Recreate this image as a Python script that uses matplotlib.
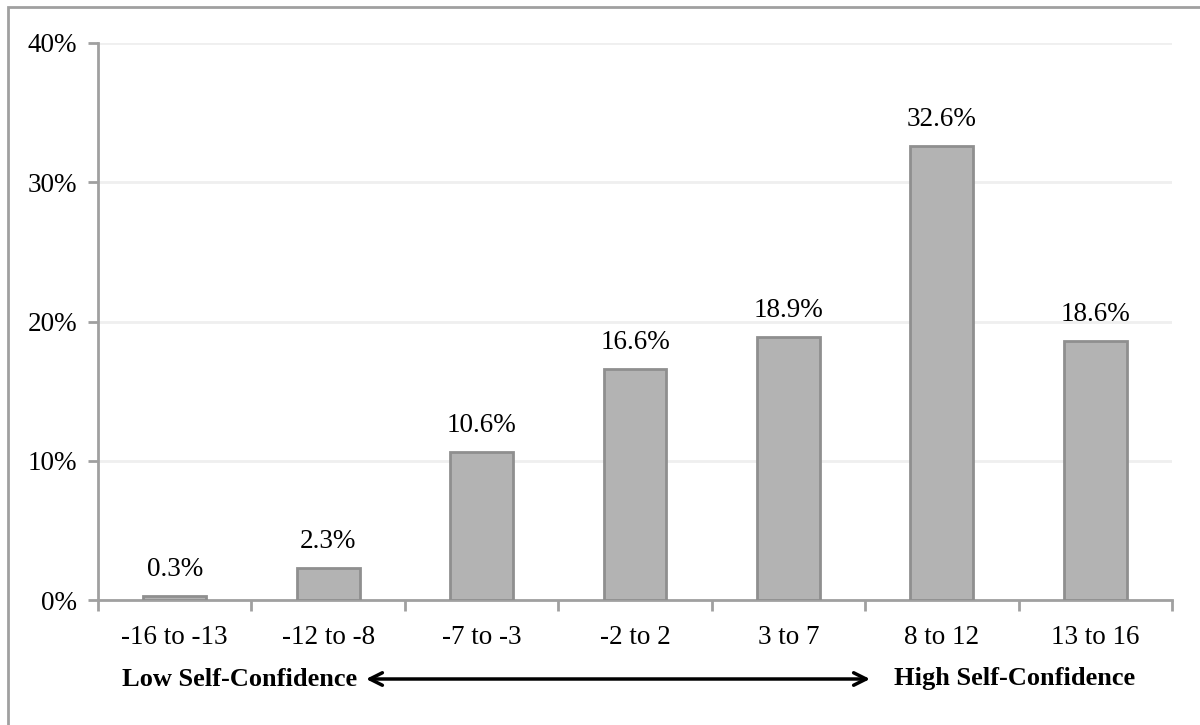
import numpy as np
import matplotlib.pyplot as plt
from matplotlib.patches import Rectangle
from matplotlib.ticker import FixedLocator, FuncFormatter

categories = ['-16 to -13', '-12 to -8', '-7 to -3', '-2 to 2', '3 to 7', '8 to 12', '13 to 16']
shares = [0.3, 2.3, 10.6, 16.6, 18.9, 32.6, 18.6]
y_ticks = [0, 10, 20, 30, 40]

plt.rcParams['font.family'] = ['Liberation Serif', 'DejaVu Serif']

fig = plt.figure(figsize=(12, 7.25), dpi=100)
ax = fig.add_axes([98 / 1200, 1 - 600 / 725, (1172 - 98) / 1200, (600 - 43) / 725])

# outer frame around the chart area
fig.patches.append(Rectangle((8 / 1200, -0.05), 1.1, 1 - 7 / 725 + 0.05,
                             transform=fig.transFigure, fill=False,
                             edgecolor='#a0a0a0', linewidth=2, zorder=0))

x = np.arange(len(categories))
bars = ax.bar(x, shares, width=0.41, color='#b3b3b3', edgecolor='#8f8f8f',
              linewidth=2, zorder=3)

for xi, v in zip(x, shares):
    ax.text(xi, v + 1.0, f'{v:.1f}%', ha='center', va='bottom', fontsize=19.5)

ax.set_xlim(-0.5, len(categories) - 0.5)
ax.set_ylim(0, 40)
ax.set_yticks(y_ticks)
ax.yaxis.set_major_formatter(FuncFormatter(lambda v, _: f'{v:.0f}%'))
ax.yaxis.grid(True, color='#efefef', linewidth=2, zorder=0)
ax.set_axisbelow(True)

# category labels sit between boundary tick marks
ax.set_xticks(x)
ax.set_xticklabels(categories, fontsize=19.5)
ax.tick_params(axis='x', which='major', length=0, pad=18)
ax.xaxis.set_minor_locator(FixedLocator(np.arange(-0.5, len(categories), 1.0)))
ax.tick_params(axis='x', which='minor', length=8, width=2, color='#a0a0a0')
ax.tick_params(axis='y', length=7, width=2, color='#a0a0a0', labelsize=19.5, pad=8)

for side in ['top', 'right']:
    ax.spines[side].set_visible(False)
for side in ['left', 'bottom']:
    ax.spines[side].set_color('#a0a0a0')
    ax.spines[side].set_linewidth(2)

# self-confidence scale underneath
scale_y = 1 - 679 / 725
fig.text(240 / 1200, scale_y, 'Low Self-Confidence', ha='center', va='center',
         fontsize=19, fontweight='bold')
fig.text(1015 / 1200, scale_y, 'High Self-Confidence', ha='center', va='center',
         fontsize=19, fontweight='bold')
ax.annotate('', xy=(366 / 1200, scale_y), xytext=(870 / 1200, scale_y),
            xycoords='figure fraction', textcoords='figure fraction',
            arrowprops=dict(arrowstyle='<->, head_length=0.9, head_width=0.45',
                            color='black', linewidth=2.5, shrinkA=0, shrinkB=0))

fig.savefig('out.png', dpi=100)
